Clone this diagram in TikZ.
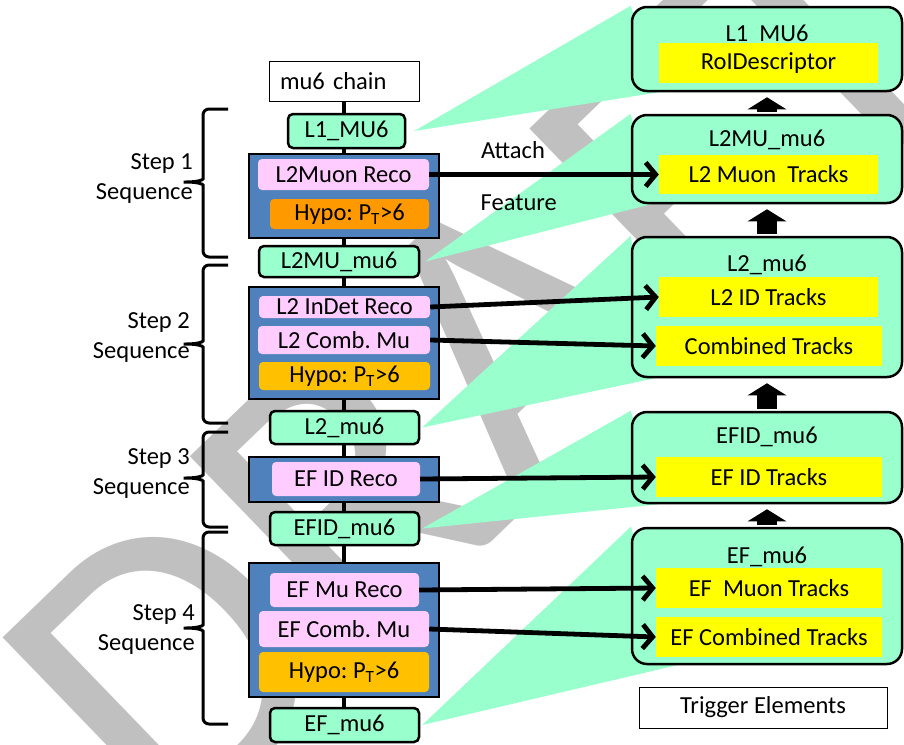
\documentclass[tikz,border=0pt]{standalone}
\usepackage{fontspec}
\setmainfont{Carlito}
\usetikzlibrary{arrows.meta,positioning,calc}
\definecolor{teagreen}{HTML}{99FFCC}
\definecolor{algblue}{HTML}{4F81BD}
\definecolor{algpink}{HTML}{FFCCFF}
\definecolor{hypoorange}{HTML}{FF9900}
\definecolor{hypogold}{HTML}{FFC000}
\definecolor{featyellow}{HTML}{FFFF00}
\definecolor{draftgray}{HTML}{C0C0C0}
\pgfdeclarelayer{draft}
\pgfdeclarelayer{fans}
\pgfsetlayers{draft,fans,main}
\frenchspacing

\begin{document}
\begin{tikzpicture}[
  x=1pt, y=-1pt,
  every node/.style={font=\fontsize{24.5}{30}\selectfont, inner sep=0pt},
  plainbox/.style={draw, line width=1pt, fill=white},
  tenode/.style={draw, line width=2.5pt, rounded corners=5pt, fill=teagreen},
  algbox/.style={draw, line width=2.5pt, fill=algblue},
  algnode/.style={fill=algpink, rounded corners=4pt},
  hyponode/.style={rounded corners=4pt},
  tebox/.style={draw, line width=2.5pt, rounded corners=15pt, fill=teagreen, minimum width=270pt},
  featbox/.style={fill=featyellow, minimum height=40pt},
  link/.style={line width=4.5pt},
  arr/.style={-{Straight Barb[length=10pt, width=24pt]}, line width=4.8pt},
  uparr/.style={-{Triangle[width=38pt, length=12pt]}, line width=20pt, shorten <=2pt, shorten >=5pt},
  stepbrace/.style={line width=3pt, rounded corners=6pt},
  lbl/.style={align=right, anchor=east},
]
  \useasboundingbox (0,0) rectangle (904,744);

  % Watermark
  \begin{pgfonlayer}{draft}
    \begin{scope}
      \clip (0,0) rectangle (904,744);
      \node[rotate=44, anchor=base west, text=draftgray, font=\fontsize{422}{422}\selectfont] (draft) at (170,853) {DRAFT};
    \end{scope}
  \end{pgfonlayer}

  % Chain (left column)
  \coordinate (spine) at (344,0);
  \node[plainbox, text width=128pt, inner xsep=11pt, minimum height=40pt, align=left] (chain) at (344,81) {mu6 chain};
  \node[tenode, minimum width=117pt, minimum height=34pt] (l1mu6) at (346.5,131) {L1\_MU6};

  \node[algbox, minimum width=190pt, minimum height=84pt] (blue1) at (344,196) {};
  \node[algnode, minimum width=171pt, minimum height=31pt] (reco1) at (343.5,174.5) {L2Muon Reco};
  \node[hyponode, fill=hypoorange, minimum width=159pt, minimum height=30pt] (hypo1) at (349.5,214) {Hypo: P\textsubscript{T}>6};

  \node[tenode, minimum width=160pt, minimum height=31pt] (l2mu) at (339,261.5) {L2MU\_mu6};

  \node[algbox, minimum width=190pt, minimum height=112pt] (blue2) at (344,343) {};
  \node[algnode, minimum width=171pt, minimum height=22pt] (indet) at (344.5,307) {L2 InDet Reco};
  \node[algnode, minimum width=172pt, minimum height=28pt] (comb2) at (344,340) {L2 Comb. Mu};
  \node[hyponode, fill=hypogold, minimum width=171pt, minimum height=28pt] (hypo2) at (344.5,376) {Hypo: P\textsubscript{T}>6};

  \node[tenode, minimum width=149pt, minimum height=33pt] (l2mu6) at (344.5,427.5) {L2\_mu6};

  \node[algbox, minimum width=190pt, minimum height=45pt] (blue3) at (344,479.5) {};
  \node[algnode, minimum width=148pt, minimum height=34pt] (efid) at (346,479) {EF ID Reco};

  \node[tenode, minimum width=149pt, minimum height=33pt] (efidmu) at (344.5,528.5) {EFID\_mu6};

  \node[algbox, minimum width=190pt, minimum height=134pt] (blue4) at (344,630) {};
  \node[algnode, minimum width=149pt, minimum height=34pt] (efmu) at (344.5,590) {EF Mu Reco};
  \node[algnode, minimum width=170pt, minimum height=36pt] (efcomb) at (344,629) {EF Comb. Mu};
  \node[hyponode, fill=hypogold, minimum width=170pt, minimum height=40pt] (hypo4) at (344,672) {Hypo: P\textsubscript{T}>6};

  \node[tenode, minimum width=149pt, minimum height=34pt] (efmu6) at (344.5,725) {EF\_mu6};

  \foreach \a/\b in {chain/l1mu6, l1mu6/blue1, blue1/l2mu, l2mu/blue2, blue2/l2mu6,
                     l2mu6/blue3, blue3/efidmu, efidmu/blue4, blue4/efmu6}
    \draw[link] (\a.south -| spine) -- (\b.north -| spine);

  % Steps
  \foreach \t/\m/\b in {109/182/257, 265/344/423, 432/478/527, 532/628/724}
    \draw[stepbrace] (228,\t) -- (203,\t) -- (203,{\m-9})
      .. controls (203,{\m-2}) and (197,\m) .. (180,\m)
      .. controls (197,\m) and (203,{\m+2}) .. (203,{\m+9}) -- (203,\b) -- (228,\b);
  \node[lbl] (step1) at (193,179) {Step 1\\Sequence};
  \node[lbl] (step2) at (190,338) {Step 2\\Sequence};
  \node[lbl] (step3) at (190,474) {Step 3\\Sequence};
  \node[lbl] (step4) at (195,630) {Step 4\\Sequence};

  % Trigger elements (right column)
  \node[tebox, minimum height=84pt] (te1) at (767,49) {};
  \node (te1t) at (767,33) {L1\ \ MU6};
  \node[featbox, minimum width=219pt] (roi) at (768.5,63) {RoIDescriptor};

  \node[tebox, minimum height=88pt] (te2) at (767,159) {};
  \node (te2t) at (767,140) {L2MU\_mu6};
  \node[featbox, minimum width=219pt, minimum height=39pt] (l2mutrk) at (768.5,174.5) {L2 Muon\ \ Tracks};

  \node[tebox, minimum height=140pt] (te3) at (767,307) {};
  \node (te3t) at (767,265) {L2\_mu6};
  \node[featbox, minimum width=219pt] (l2idtrk) at (768.5,297) {L2 ID Tracks};
  \node[featbox, minimum width=226pt] (combtrk) at (769,346) {Combined Tracks};

  \node[tebox, minimum height=91pt] (te4) at (767,457.5) {};
  \node (te4t) at (767,437) {EFID\_mu6};
  \node[featbox, minimum width=226pt] (efidtrk) at (769,477) {EF ID Tracks};

  \node[tebox, minimum height=136pt] (te5) at (767,596) {};
  \node (te5t) at (767,557) {EF\_mu6};
  \node[featbox, minimum width=226pt] (efmutrk) at (769,588) {EF\ \ Muon Tracks};
  \node[featbox, minimum width=226pt] (efcombtrk) at (769,637) {EF Combined Tracks};

  \node[plainbox, minimum width=248pt, minimum height=41pt] (trig) at (763,707.5) {Trigger Elements};

  \foreach \a/\b in {te2/te1, te3/te2, te4/te3, te5/te4}
    \draw[uparr] (\a) -- (\b);

  % Fans
  \begin{pgfonlayer}{fans}
    \fill[teagreen] ($(l1mu6.east)+(8,0)$) -- (te1.north west) -- ($(te1.south west)+(28,0)$) -- cycle;
    \fill[teagreen] ($(l2mu.east)+(5,0)$) -- (te2.north west) -- ($(te2.south west)+(20,0)$) -- cycle;
    \fill[teagreen] ($(l2mu6.east)+(2,0)$) -- (te3.north west) -- ($(te3.south west)+(24,0)$) -- cycle;
    \fill[teagreen] ($(efidmu.east)+(2,0)$) -- (te4.north west) -- ($(te4.south west)+(28,0)$) -- cycle;
    \fill[teagreen] ($(efmu6.east)+(2,0)$) -- (te5.north west) -- ($(te5.south west)+(46,0)$) -- cycle;
  \end{pgfonlayer}

  % Attach feature
  \draw[arr] (reco1.east) -- node[pos=0.365, above=13pt] (attach) {Attach}
                             node[pos=0.39, below=18pt] (feature) {Feature} (l2mutrk.west);
  \draw[arr] (indet.east) -- (l2idtrk.west);
  \draw[arr] (comb2.east) -- (combtrk.west);
  \draw[arr] (efid.east) -- (efidtrk.west);
  \draw[arr] (efmu.east) -- (efmutrk.west);
  \draw[arr] (efcomb.east) -- (efcombtrk.west);
\end{tikzpicture}
\end{document}
